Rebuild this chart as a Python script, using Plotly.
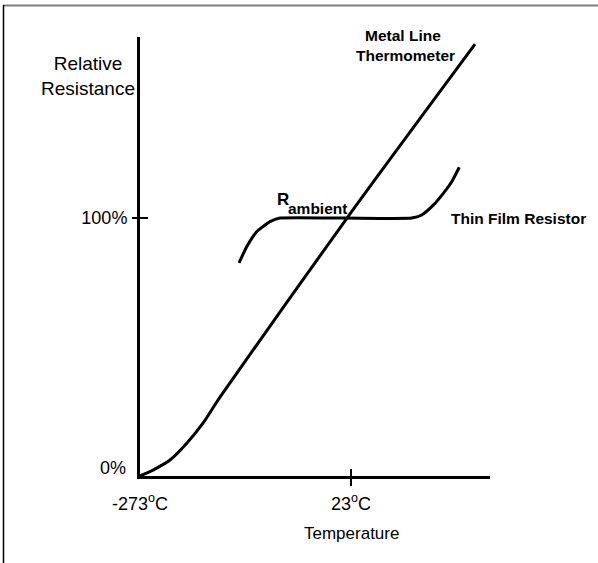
import plotly.graph_objects as go

# ---- data ----
metal_T = [-273, -254.8, -230.9, -207.1, -184.6, -160.8, 17.4, 197.0]
metal_R = [0, 2.3, 6.2, 12.8, 20.5, 30.6, 100.0, 167.4]

film_T = [-134.1, -123.3, -109.3, -90.6, -76.6, 15.0, 108.1, 122.2, 138.4, 152.5, 164.3, 174.9]
film_R = [82.6, 88.9, 94.7, 98.6, 100.0, 100.0, 100.0, 101.2, 105.0, 109.6, 114.1, 119.7]

x_range = [-273, 218]
y_range = [0, 170.2]
x_tickvals = [-273, 23]
x_ticktext = ["-273<sup>o</sup>C", "23<sup>o</sup>C"]
x_markvals = [23]
y_tickvals = [100]
y_ticktext = ["100%"]
y_markvals = [100]

W, H = 598, 563
L, R, T, B = 140, 490, 37, 476  # plot area in pixels


def px(xp):
    return (xp - L) / (R - L)


def py(yp):
    return (B - yp) / (B - T)


REG = "Liberation Sans, Arial, sans-serif"

fig = go.Figure()
fig.add_trace(go.Scatter(x=metal_T, y=metal_R, mode="lines",
                         line=dict(color="black", width=3, shape="spline", smoothing=0.7),
                         showlegend=False, hoverinfo="skip"))
fig.add_trace(go.Scatter(x=film_T, y=film_R, mode="lines",
                         line=dict(color="black", width=3, shape="spline", smoothing=0.5),
                         showlegend=False, hoverinfo="skip"))
for xa, ya in [("x2", "y"), ("x3", "y"), ("x", "y2"), ("x", "y3")]:
    fig.add_trace(go.Scatter(x=[None], y=[None], xaxis=xa, yaxis=ya, showlegend=False,
                             hoverinfo="skip"))

common = dict(showgrid=False, zeroline=False, fixedrange=True)
fig.update_layout(
    width=W, height=H,
    margin=dict(l=L, r=W - R, t=T, b=H - B, pad=0),
    paper_bgcolor="white", plot_bgcolor="white",
    font=dict(family=REG, size=18, color="black"),
    xaxis=dict(range=x_range, tickvals=x_tickvals, ticktext=x_ticktext, ticks="",
               showline=True, linecolor="black", linewidth=3, ticklabelstandoff=9,
               tickfont=dict(family=REG, size=18, color="black"), **common),
    yaxis=dict(range=y_range, tickvals=y_tickvals, ticktext=y_ticktext, ticks="",
               showline=True, linecolor="black", linewidth=3, ticklabelstandoff=6,
               tickfont=dict(family=REG, size=18, color="black"), **common),
    xaxis2=dict(range=x_range, overlaying="x", anchor="y", side="bottom",
                tickvals=x_markvals, ticks="outside", ticklen=9, tickwidth=2,
                tickcolor="black", showticklabels=False, showline=False, **common),
    xaxis3=dict(range=x_range, overlaying="x", anchor="y", side="bottom",
                tickvals=x_markvals, ticks="inside", ticklen=7, tickwidth=2,
                tickcolor="black", showticklabels=False, showline=False, **common),
    yaxis2=dict(range=y_range, overlaying="y", anchor="x", side="left",
                tickvals=y_markvals, ticks="outside", ticklen=7, tickwidth=2,
                tickcolor="black", showticklabels=False, showline=False, **common),
    yaxis3=dict(range=y_range, overlaying="y", anchor="x", side="left",
                tickvals=y_markvals, ticks="inside", ticklen=8, tickwidth=2,
                tickcolor="black", showticklabels=False, showline=False, **common),
)

ann = []


def add(text, xp, yp, xanchor="center", size=18, bold=False):
    t = f"<b>{text}</b>" if bold else text
    ann.append(dict(text=t, x=px(xp), y=py(yp), xref="paper", yref="paper",
                    xanchor=xanchor, yanchor="middle", showarrow=False,
                    font=dict(family=REG, size=size, color="black")))


add("Relative<br>Resistance", 88, 76.5, size=19)
add("0%", 128, 468, xanchor="right", size=18)
add("Temperature", 351, 533, size=17)
add("Metal Line", 402.5, 36, size=15.5, bold=True)
add("Thermometer", 405, 56, size=15.5, bold=True)
add("Thin Film Resistor", 449, 218, xanchor="left", size=15.5, bold=True)
add("R", 275, 200, xanchor="left", size=17, bold=True)
add("ambient", 286, 208, xanchor="left", size=15.5, bold=True)
fig.update_layout(annotations=ann)

# frame lines of the picture (top grey, left black)
fig.update_layout(shapes=[
    dict(type="line", xref="paper", yref="paper", x0=px(3), x1=px(598), y0=py(5.5), y1=py(5.5),
         line=dict(color="#808080", width=2)),
    dict(type="line", xref="paper", yref="paper", x0=px(3.5), x1=px(3.5), y0=py(5), y1=py(563),
         line=dict(color="black", width=1.5)),
])

fig.write_html("out.html", config={"displayModeBar": False})
